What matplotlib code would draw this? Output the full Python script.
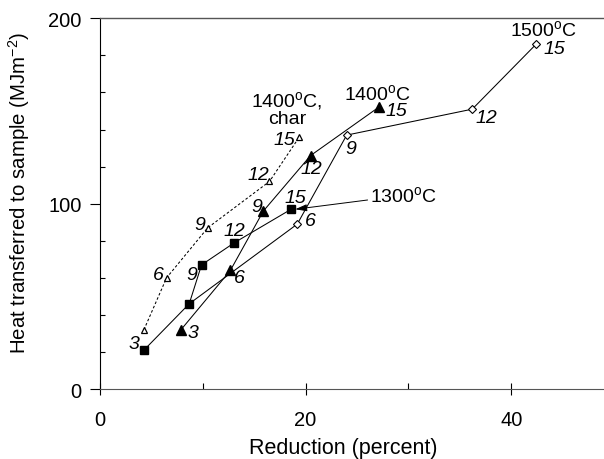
import numpy as np
import matplotlib
matplotlib.use('Agg')
import matplotlib.pyplot as plt

plt.rcParams['font.family'] = ['Liberation Sans', 'DejaVu Sans']
plt.rcParams['mathtext.fontset'] = 'custom'
plt.rcParams['mathtext.rm'] = 'Liberation Sans'
plt.rcParams['mathtext.it'] = 'Liberation Sans:italic'

# reaction time (min) for each point
times = [3, 6, 9, 12, 15]

# reduction (%) and heat transferred (MJ/m2) per furnace temperature
red_1300 = [4.3, 8.7, 9.9, 13.1, 18.6]
heat_1300 = [21, 46, 67, 79, 97]
red_1400 = [7.9, 12.7, 15.9, 20.5, 27.1]
heat_1400 = [32, 64, 96, 126, 152]
red_1500 = [8.7, 19.2, 24.0, 36.2, 42.4]
heat_1500 = [46, 89, 137, 151, 186]
red_char = [4.3, 6.5, 10.5, 16.5, 19.4]
heat_char = [32, 60, 87, 112, 136]

# which points get a time label
lab_1300 = [True, False, True, True, True]
lab_1400 = [True, True, True, True, True]
lab_1500 = [False, True, True, True, True]
lab_char = [False, True, True, True, True]

# label offsets in pixels (dx right, dy up)
off_1300 = [(-10, 7), (0, 0), (-10, -10), (0, 12), (4, 12)]
off_1400 = [(12, -3), (9, -7), (-7, 5), (1, -13), (18, -3)]
off_1500 = [(0, 0), (13, 4), (4, -13), (14, -8), (18, -4)]
off_char = [(0, 0), (-8, 3), (-8, 3), (-11, 7), (-15, -3)]

fs = 14

fig = plt.figure(figsize=(6.04, 4.6), dpi=100)
ax = fig.add_axes([0.165, 0.152, 0.835, 0.806])

lw = 0.75
ax.plot(red_char, heat_char, color='k', lw=lw, ls=(0, (2.5, 2)), marker='^',
        ms=5, mfc='white', mec='k', mew=0.9, zorder=3)
ax.plot(red_1500, heat_1500, color='k', lw=lw, marker='D', ms=4.2,
        mfc='white', mec='k', mew=0.8, zorder=2)
ax.plot(red_1400, heat_1400, color='k', lw=lw, marker='^', ms=6.5,
        mfc='k', mec='k', zorder=4)
ax.plot(red_1300, heat_1300, color='k', lw=lw, marker='s', ms=6,
        mfc='k', mec='k', zorder=5)

px = 0.72  # points per pixel at 100 dpi
for xs, ys, labs, offs in [(red_1300, heat_1300, lab_1300, off_1300),
                           (red_1400, heat_1400, lab_1400, off_1400),
                           (red_1500, heat_1500, lab_1500, off_1500),
                           (red_char, heat_char, lab_char, off_char)]:
    for x, y, t, show, (dx, dy) in zip(xs, ys, times, labs, offs):
        if not show:
            continue
        ax.annotate(str(t), (x, y), xytext=(dx * px, dy * px),
                    textcoords='offset points', ha='center', va='center',
                    fontsize=fs, fontstyle='italic', zorder=6)

deg = r'$^{\mathrm{o}}$'
ax.text(18.2, 151.5, '1400' + deg + 'C,\nchar', ha='center', va='center',
        fontsize=fs, linespacing=0.9)
ax.text(27.0, 159.5, '1400' + deg + 'C', ha='center', va='center', fontsize=fs)
ax.text(43.1, 194, '1500' + deg + 'C', ha='center', va='center', fontsize=fs)
ax.annotate('1300' + deg + 'C', xy=(red_1300[-1] + 0.4, heat_1300[-1]),
            xytext=(26.3, 104.5), ha='left', va='center', fontsize=fs,
            arrowprops=dict(arrowstyle='-|>,head_length=0.5,head_width=0.15',
                            color='k', lw=0.7, shrinkA=0, shrinkB=0))

ax.set_xlim(0, 49)
ax.set_ylim(0, 200)
ax.set_xticks([0, 20, 40])
ax.set_xticks([10, 30], minor=True)
ax.set_yticks([0, 100, 200])
ax.set_yticks(np.arange(20, 200, 20), minor=True)

ax.tick_params(axis='x', which='major', direction='inout', length=8.5,
               width=0.8, pad=11, labelsize=14.5)
ax.tick_params(axis='x', which='minor', direction='in', length=4, width=0.8)
ax.tick_params(axis='y', which='major', direction='out', length=7,
               width=0.8, pad=6, labelsize=14.5)
ax.tick_params(axis='y', which='minor', direction='in', length=3.6, width=0.8)

ax.spines['right'].set_visible(False)
for s in ['left', 'bottom']:
    ax.spines[s].set_linewidth(0.8)
ax.spines['top'].set_linewidth(1.0)
ax.spines['top'].set_color('#555555')
ax.spines['bottom'].set_color('#555555')

ax.set_xlabel('Reduction (percent)', fontsize=15.5)
ax.set_ylabel('Heat transferred to sample (MJm$^{-2}$)', fontsize=14.7)
ax.xaxis.set_label_coords(0.4835, -0.128)
ax.yaxis.set_label_coords(-0.135, 0.533)

fig.savefig('out.png', dpi=100)
